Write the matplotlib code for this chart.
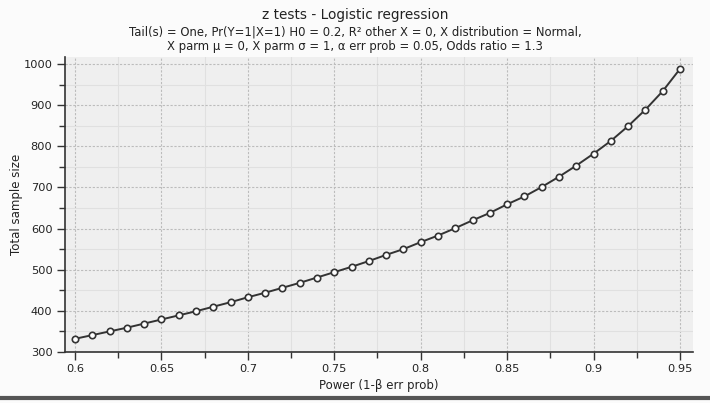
import numpy as np
import matplotlib
matplotlib.use("Agg")
import matplotlib.pyplot as plt
from matplotlib.ticker import MultipleLocator
from matplotlib.lines import Line2D

# power values (1 - beta) and the total sample size
power = [0.60, 0.61, 0.62, 0.63, 0.64, 0.65, 0.66, 0.67, 0.68, 0.69,
         0.70, 0.71, 0.72, 0.73, 0.74, 0.75, 0.76, 0.77, 0.78, 0.79,
         0.80, 0.81, 0.82, 0.83, 0.84, 0.85, 0.86, 0.87, 0.88, 0.89,
         0.90, 0.91, 0.92, 0.93, 0.94, 0.95]
sample_size = [332, 341, 350, 359, 369, 379, 389, 399, 410, 421,
               433, 444, 456, 468, 481, 494, 507, 521, 536, 550,
               567, 583, 601, 620, 638, 659, 678, 701, 726, 753,
               782, 813, 849, 889, 934, 988]
xticks = [0.6, 0.65, 0.7, 0.75, 0.8, 0.85, 0.9, 0.95]
xticklabels = ["0.6", "0.65", "0.7", "0.75", "0.8", "0.85", "0.9", "0.95"]
yticks = [300, 400, 500, 600, 700, 800, 900, 1000]

title = "z tests - Logistic regression"
subtitle = ("Tail(s) = One, Pr(Y=1|X=1) H0 = 0.2, R\u00b2 other X = 0, X distribution = Normal,\n"
            "X parm \u03bc = 0, X parm \u03c3 = 1, \u03b1 err prob = 0.05, Odds ratio = 1.3")

plt.rcParams['font.family'] = ['DejaVu Sans']

fig = plt.figure(figsize=(7.1, 4.03), dpi=100)
fig.patch.set_facecolor('#fbfbfb')
ax = fig.add_axes([0.0915, 0.1266, 0.8845, 0.732])
ax.set_facecolor('#efefef')

ax.plot(power, sample_size, color='#333333', lw=1.4, marker='o', ms=4.6,
        mfc='white', mec='#333333', mew=1.2, zorder=3)

ax.set_xlim(0.5942, 0.9575)
ax.set_ylim(300, 1017)
ax.set_xticks(xticks)
ax.set_xticklabels(xticklabels)
ax.set_yticks(yticks)
ax.xaxis.set_minor_locator(MultipleLocator(0.025))
ax.yaxis.set_minor_locator(MultipleLocator(50))

ax.grid(which='major', color='#bcbcbc', ls=(0, (2, 1.5)), lw=0.8)
ax.grid(which='minor', color='#e0e0e0', ls='-', lw=0.8)
ax.set_axisbelow(True)

for s in ['top', 'right']:
    ax.spines[s].set_visible(False)
for s in ['left', 'bottom']:
    ax.spines[s].set_color('#333333')
    ax.spines[s].set_linewidth(1.2)

ax.tick_params(which='major', length=6, width=1.0, color='#333333',
               labelsize=8.2, labelcolor='#222222', pad=3)
ax.tick_params(which='minor', length=4, width=1.0, color='#333333')

ax.set_xlabel("Power (1-\u03b2 err prob)", fontsize=8.5, color='#222222', labelpad=3)
ax.set_ylabel("Total sample size", fontsize=8.5, color='#222222', labelpad=0)

fig.text(0.5, 0.963, title, ha='center', va='center', fontsize=9.8, color='#222222')
fig.text(0.5, 0.903, subtitle, ha='center', va='center', fontsize=8.4,
         color='#222222', linespacing=1.2)

# separator line under the chart
fig.add_artist(Line2D([0.0, 1.0], [0.012, 0.012], transform=fig.transFigure,
                      color='#555555', lw=3))

fig.savefig("out.png", dpi=100, facecolor=fig.get_facecolor())
